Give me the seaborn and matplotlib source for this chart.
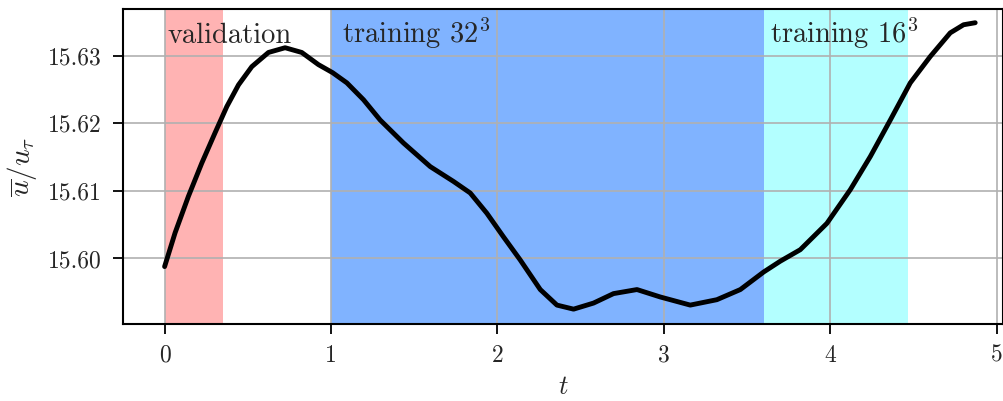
import numpy as np
import pandas as pd
import matplotlib
matplotlib.use("Agg")
import matplotlib.pyplot as plt
import seaborn as sns

# data
t = [0.000, 0.063, 0.143, 0.223, 0.303, 0.374, 0.444, 0.524, 0.624, 0.724,
     0.824, 0.924, 1.010, 1.095, 1.195, 1.295, 1.435, 1.596, 1.736, 1.836,
     1.936, 2.036, 2.136, 2.257, 2.357, 2.457, 2.577, 2.697, 2.838, 2.978,
     3.158, 3.318, 3.459, 3.599, 3.699, 3.819, 3.979, 4.120, 4.240, 4.360,
     4.480, 4.600, 4.720, 4.800, 4.870]
u = [15.5988, 15.6038, 15.6092, 15.6141, 15.6186, 15.6225, 15.6257, 15.6284,
     15.6305, 15.6312, 15.6305, 15.6287, 15.6275, 15.6260, 15.6235, 15.6205,
     15.6171, 15.6136, 15.6114, 15.6097, 15.6067, 15.6032, 15.5998, 15.5954,
     15.5931, 15.5925, 15.5934, 15.5948, 15.5954, 15.5943, 15.5931, 15.5939,
     15.5954, 15.5980, 15.5996, 15.6013, 15.6052, 15.6102, 15.6151, 15.6205,
     15.6260, 15.6299, 15.6334, 15.6346, 15.6349]

regions = [(0.0, 0.35), (1.0, 3.6), (3.6, 4.465)]
region_labels = ["validation", "training $32^3$", "training $16^3$"]
label_x = [0.02, 1.067, 3.64]
region_colors = ["#ffb3b3", "#80b3ff", "#b3ffff"]

xticks = [0, 1, 2, 3, 4, 5]
yticks = [15.60, 15.61, 15.62, 15.63]

sns.set_style("ticks")
plt.rcParams.update({
    "font.family": "serif",
    "font.serif": ["cmr10"],
    "mathtext.fontset": "cm",
    "axes.formatter.use_mathtext": True,
    "font.size": 17,
    "axes.unicode_minus": False,
})

fig = plt.figure(figsize=(10.04, 4.01), dpi=100)
ax = fig.add_axes([0.1225, 0.192, 0.877, 0.785])

for (a, b), c in zip(regions, region_colors):
    ax.axvspan(a, b, color=c, lw=0, zorder=0.5)

df = pd.DataFrame({"t": t, "u": u})
sns.lineplot(data=df, x="t", y="u", ax=ax, color="black", lw=3.5, zorder=3)
ax.lines[-1].set_solid_joinstyle("round")

trans = ax.get_xaxis_transform()
for x, lab in zip(label_x, region_labels):
    ax.text(x, 0.893, lab, transform=trans, ha="left", va="baseline",
            fontsize=20.5, zorder=4)

ax.set_xlim(-0.25, 5.04)
ax.set_ylim(15.5903, 15.6369)
ax.set_xticks(xticks)
ax.set_yticks(yticks)
ax.set_yticklabels([f"{v:.2f}" for v in yticks])
ax.set_xticklabels([str(v) for v in xticks])
ax.grid(True, color="#b0b0b0", lw=1.2, zorder=1.5)
ax.set_axisbelow(False)
for sp in ax.spines.values():
    sp.set_color("black")
    sp.set_linewidth(1.5)
    sp.set_zorder(5)
ax.tick_params(axis="both", direction="out", length=7, width=1.3,
               color="black", labelsize=17, pad=8)
ax.set_xlabel("$t$", fontsize=19, labelpad=6)
ax.set_ylabel(r"$\overline{u}/u_\tau$", fontsize=21, labelpad=7)

fig.savefig("out.png", dpi=100)
